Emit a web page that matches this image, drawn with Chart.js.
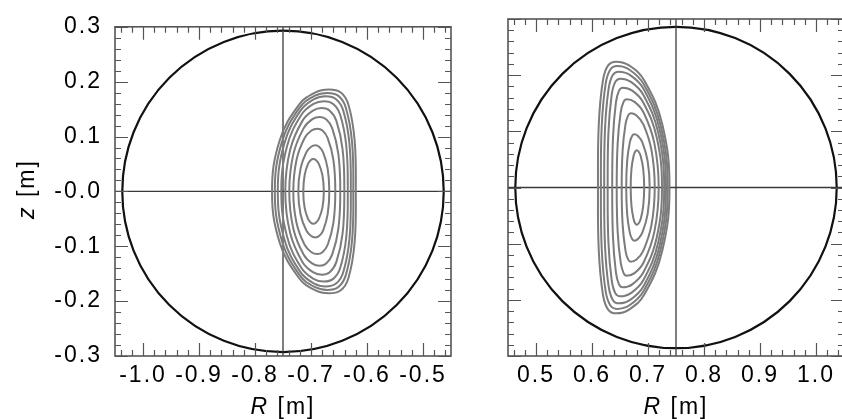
<!DOCTYPE html>
<html><head><meta charset="utf-8">
<script src="https://cdn.jsdelivr.net/npm/chart.js@4.4.0/dist/chart.umd.min.js"></script>
<style>
html,body{margin:0;padding:0;background:#fff;overflow:hidden;width:842px;height:419px;position:relative;}
#c1{position:absolute;left:0;top:0;}
#c2{position:absolute;left:460px;top:0;}
</style></head><body>
<canvas id="c1" width="460" height="419"></canvas>
<canvas id="c2" width="400" height="419"></canvas>
<script>
// ---- axis ranges and ticks ----
const leftRRange = [-1.05, -0.45];
const rightRRange = [0.45, 1.05];
const zRange = [-0.3, 0.3];
const leftRTicks = [-1.0, -0.9, -0.8, -0.7, -0.6, -0.5];
const leftRTickLabels = ['-1.0', '-0.9', '-0.8', '-0.7', '-0.6', '-0.5'];
const rightRTicks = [0.5, 0.6, 0.7, 0.8, 0.9, 1.0];
const rightRTickLabels = ['0.5', '0.6', '0.7', '0.8', '0.9', '1.0'];
const zTicks = [-0.3, -0.2, -0.1, 0.0, 0.1, 0.2, 0.3];
const zTickLabels = ['-0.3', '-0.2', '-0.1', '-0.0', '0.1', '0.2', '0.3'];
const minorStep = 0.02;

// ---- vessel circle and cross-hair ----
const leftAxisR = -0.75;
const rightAxisR = 0.75;
const vesselRadius = 0.287;

// ---- flux contours [R, z], innermost first ----
const leftContours = [
 [[-0.7138,0],[-0.7114,0.0295],[-0.7053,0.0501],[-0.7002,0.0571],[-0.6959,0.0589],[-0.6913,0.0571],[-0.6860,0.0501],[-0.6796,0.0295],[-0.6771,0],[-0.6796,-0.0295],[-0.6860,-0.0501],[-0.6913,-0.0571],[-0.6959,-0.0589],[-0.7002,-0.0571],[-0.7053,-0.0501],[-0.7114,-0.0295]],
 [[-0.7227,0],[-0.7186,0.0420],[-0.7083,0.0713],[-0.6997,0.0814],[-0.6923,0.0839],[-0.6856,0.0814],[-0.6784,0.0713],[-0.6703,0.0420],[-0.6673,0],[-0.6703,-0.0420],[-0.6784,-0.0713],[-0.6856,-0.0814],[-0.6923,-0.0839],[-0.6997,-0.0814],[-0.7083,-0.0713],[-0.7186,-0.0420]],
 [[-0.7316,0],[-0.7259,0.0572],[-0.7114,0.0972],[-0.6992,0.1109],[-0.6888,0.1143],[-0.6795,0.1109],[-0.6702,0.0972],[-0.6600,0.0572],[-0.6566,0],[-0.6600,-0.0572],[-0.6702,-0.0972],[-0.6795,-0.1109],[-0.6888,-0.1143],[-0.6992,-0.1109],[-0.7114,-0.0972],[-0.7259,-0.0572]],
 [[-0.7388,0],[-0.7315,0.0679],[-0.7130,0.1153],[-0.6975,0.1316],[-0.6843,0.1357],[-0.6729,0.1316],[-0.6622,0.1153],[-0.6511,0.0679],[-0.6477,0],[-0.6511,-0.0679],[-0.6622,-0.1153],[-0.6729,-0.1316],[-0.6843,-0.1357],[-0.6975,-0.1316],[-0.7130,-0.1153],[-0.7315,-0.0679]],
 [[-0.7459,0],[-0.7372,0.0759],[-0.7151,0.1290],[-0.6965,0.1472],[-0.6807,0.1518],[-0.6666,0.1472],[-0.6548,0.1290],[-0.6435,0.0759],[-0.6405,0],[-0.6435,-0.0759],[-0.6548,-0.1290],[-0.6666,-0.1472],[-0.6807,-0.1518],[-0.6965,-0.1472],[-0.7151,-0.1290],[-0.7372,-0.0759]],
 [[-0.7530,0],[-0.7428,0.0822],[-0.7171,0.1397],[-0.6955,0.1594],[-0.6771,0.1643],[-0.6604,0.1594],[-0.6479,0.1397],[-0.6369,0.0822],[-0.6343,0],[-0.6369,-0.0822],[-0.6479,-0.1397],[-0.6604,-0.1594],[-0.6771,-0.1643],[-0.6955,-0.1594],[-0.7171,-0.1397],[-0.7428,-0.0822]],
 [[-0.7593,0],[-0.7478,0.0866],[-0.7188,0.1472],[-0.6944,0.1680],[-0.6736,0.1732],[-0.6553,0.1680],[-0.6424,0.1472],[-0.6313,0.0866],[-0.6289,0],[-0.6313,-0.0866],[-0.6424,-0.1472],[-0.6553,-0.1680],[-0.6736,-0.1732],[-0.6944,-0.1680],[-0.7188,-0.1472],[-0.7478,-0.0866]],
 [[-0.7646,0],[-0.7520,0.0898],[-0.7203,0.1526],[-0.6937,0.1741],[-0.6709,0.1795],[-0.6511,0.1741],[-0.6378,0.1526],[-0.6267,0.0898],[-0.6245,0],[-0.6267,-0.0898],[-0.6378,-0.1526],[-0.6511,-0.1741],[-0.6709,-0.1795],[-0.6937,-0.1741],[-0.7203,-0.1526],[-0.7520,-0.0898]],
 [[-0.7696,0],[-0.7560,0.0929],[-0.7216,0.1578],[-0.6928,0.1801],[-0.6682,0.1857],[-0.6468,0.1801],[-0.6331,0.1578],[-0.6221,0.0929],[-0.6200,0],[-0.6221,-0.0929],[-0.6331,-0.1578],[-0.6468,-0.1801],[-0.6682,-0.1857],[-0.6928,-0.1801],[-0.7216,-0.1578],[-0.7560,-0.0929]]
];
const rightContours = [
 [[0.6691,0],[0.6705,0.0331],[0.6742,0.0562],[0.6772,0.0641],[0.6798,0.0661],[0.6831,0.0641],[0.6869,0.0562],[0.6914,0.0331],[0.6932,0],[0.6914,-0.0331],[0.6869,-0.0562],[0.6831,-0.0641],[0.6798,-0.0661],[0.6772,-0.0641],[0.6742,-0.0562],[0.6705,-0.0331]],
 [[0.6611,0],[0.6628,0.0473],[0.6675,0.0804],[0.6716,0.0918],[0.6754,0.0946],[0.6821,0.0918],[0.6899,0.0804],[0.6993,0.0473],[0.7030,0],[0.6993,-0.0473],[0.6899,-0.0804],[0.6821,-0.0918],[0.6754,-0.0946],[0.6716,-0.0918],[0.6675,-0.0804],[0.6628,-0.0473]],
 [[0.6530,0],[0.6547,0.0661],[0.6598,0.1123],[0.6644,0.1281],[0.6691,0.1321],[0.6795,0.1281],[0.6917,0.1123],[0.7063,0.0661],[0.7120,0],[0.7063,-0.0661],[0.6917,-0.1123],[0.6795,-0.1281],[0.6691,-0.1321],[0.6644,-0.1281],[0.6598,-0.1123],[0.6547,-0.0661]],
 [[0.6441,0],[0.6458,0.0786],[0.6512,0.1335],[0.6564,0.1524],[0.6620,0.1571],[0.6759,0.1524],[0.6921,0.1335],[0.7114,0.0786],[0.7191,0],[0.7114,-0.0786],[0.6921,-0.1335],[0.6759,-0.1524],[0.6620,-0.1571],[0.6564,-0.1524],[0.6512,-0.1335],[0.6458,-0.0786]],
 [[0.6361,0],[0.6375,0.0889],[0.6427,0.1510],[0.6482,0.1724],[0.6548,0.1777],[0.6719,0.1724],[0.6918,0.1510],[0.7156,0.0889],[0.7250,0],[0.7156,-0.0889],[0.6918,-0.1510],[0.6719,-0.1724],[0.6548,-0.1777],[0.6482,-0.1724],[0.6427,-0.1510],[0.6375,-0.0889]],
 [[0.6280,0],[0.6293,0.0969],[0.6351,0.1647],[0.6416,0.1880],[0.6504,0.1938],[0.6695,0.1880],[0.6918,0.1647],[0.7184,0.0969],[0.7289,0],[0.7184,-0.0969],[0.6918,-0.1647],[0.6695,-0.1880],[0.6504,-0.1938],[0.6416,-0.1880],[0.6351,-0.1647],[0.6293,-0.0969]],
 [[0.6218,0],[0.6232,0.1032],[0.6296,0.1754],[0.6371,0.2001],[0.6477,0.2063],[0.6682,0.2001],[0.6922,0.1754],[0.7208,0.1032],[0.7321,0],[0.7208,-0.1032],[0.6922,-0.1754],[0.6682,-0.2001],[0.6477,-0.2063],[0.6371,-0.2001],[0.6296,-0.1754],[0.6232,-0.1032]],
 [[0.6159,0],[0.6173,0.1081],[0.6242,0.1837],[0.6326,0.2096],[0.6450,0.2161],[0.6669,0.2096],[0.6925,0.1837],[0.7231,0.1081],[0.7352,0],[0.7231,-0.1081],[0.6925,-0.1837],[0.6669,-0.2096],[0.6450,-0.2161],[0.6326,-0.2096],[0.6242,-0.1837],[0.6173,-0.1081]],
 [[0.6107,0],[0.6121,0.1121],[0.6195,0.1905],[0.6288,0.2174],[0.6432,0.2241],[0.6663,0.2174],[0.6934,0.1905],[0.7256,0.1121],[0.7384,0],[0.7256,-0.1121],[0.6934,-0.1905],[0.6663,-0.2174],[0.6432,-0.2241],[0.6288,-0.2174],[0.6195,-0.1905],[0.6121,-0.1121]]
];

const FONT = "'Liberation Sans', Arial, Helvetica, sans-serif";
const FSIZE = 23;
const tickFont = {family: FONT, size: FSIZE};
const SPACING = '2px';

function loopData(pts){
  const n = pts.length;
  const seq = [pts[n-1], ...pts, pts[0], pts[1]];
  return seq.map(p => ({x: p[0], y: p[1]}));
}
function contourDatasets(list){
  return list.map(pts => {
    const data = loopData(pts);
    const last = data.length - 2;
    return {
      data, showLine: true, borderColor: '#7c7c7c', borderWidth: 2, pointRadius: 0,
      tension: 0.4, fill: false,
      segment: {borderColor: c => (c.p0DataIndex === 0 || c.p0DataIndex === last) ? 'rgba(0,0,0,0)' : undefined}
    };
  });
}
function lineDataset(pts){
  return {data: pts.map(p => ({x: p[0], y: p[1]})), showLine: true, borderColor: '#3a3a3a',
    borderWidth: 1.3, pointRadius: 0, tension: 0, fill: false};
}

function isMajor(v){ return Math.abs(v * 10 - Math.round(v * 10)) < 1e-6; }

function decorPlugin(p){
  return {
    id: 'decor',
    beforeDraw(chart){ chart.ctx.letterSpacing = SPACING; },
    beforeDatasetsDraw(chart){
      const {ctx} = chart; const x = chart.scales.x, y = chart.scales.y;
      const cx = x.getPixelForValue(p.center), cy = y.getPixelForValue(0);
      const r = Math.abs(x.getPixelForValue(p.center + vesselRadius) - cx);
      ctx.save();
      ctx.beginPath(); ctx.arc(cx, cy, r, 0, Math.PI * 2);
      ctx.lineWidth = 2.2; ctx.strokeStyle = '#111'; ctx.stroke();
      ctx.restore();
    },
    afterDatasetsDraw(chart){
      const {ctx, chartArea: a} = chart; const x = chart.scales.x, y = chart.scales.y;
      ctx.save();
      ctx.strokeStyle = '#555'; ctx.lineWidth = 1.2;
      ctx.beginPath();
      const x0 = Math.ceil(x.min / minorStep - 1e-6) * minorStep;
      for (let v = x0; v <= x.max + 1e-9; v += minorStep){
        const px = Math.round(x.getPixelForValue(v)) + 0.5;
        const len = isMajor(v) ? 13 : 6;
        ctx.moveTo(px, a.bottom); ctx.lineTo(px, a.bottom - len);
        ctx.moveTo(px, a.top); ctx.lineTo(px, a.top + len);
      }
      const y0 = Math.ceil(y.min / minorStep - 1e-6) * minorStep;
      for (let v = y0; v <= y.max + 1e-9; v += minorStep){
        const py = Math.round(y.getPixelForValue(v)) + 0.5;
        const len = isMajor(v) ? 13 : 6;
        ctx.moveTo(a.left, py); ctx.lineTo(a.left + len, py);
        ctx.moveTo(a.right, py); ctx.lineTo(a.right - len, py);
      }
      ctx.stroke();
      ctx.lineWidth = 1.6; ctx.strokeStyle = '#555';
      ctx.strokeRect(a.left, a.top, a.right - a.left, a.bottom - a.top);
      ctx.restore();
    },
    afterDraw(chart){
      const {ctx, chartArea: a} = chart;
      ctx.save();
      ctx.letterSpacing = SPACING;
      ctx.fillStyle = '#000';
      ctx.textBaseline = 'alphabetic'; ctx.textAlign = 'left';
      const it = 'italic ' + FSIZE + 'px ' + FONT, nf = FSIZE + 'px ' + FONT;
      function title(sym){
        ctx.font = it; const w1 = ctx.measureText(sym).width;
        ctx.font = nf; const w2 = ctx.measureText(' [m]').width;
        const s = -(w1 + w2) / 2;
        ctx.font = it; ctx.fillText(sym, s, 0);
        ctx.font = nf; ctx.fillText(' [m]', s + w1, 0);
      }
      ctx.save(); ctx.translate((a.left + a.right) / 2, 414); title('R'); ctx.restore();
      if (p.yTitle){
        ctx.save(); ctx.translate(34, 189); ctx.rotate(-Math.PI / 2); title('z'); ctx.restore();
      }
      ctx.restore();
    }
  };
}

function makeChart(id, cfg){
  return new Chart(document.getElementById(id), {
    type: 'scatter',
    data: {datasets: [
      ...contourDatasets(cfg.contours),
      lineDataset([[cfg.range[0], 0], [cfg.range[1], 0]]),
      lineDataset([[cfg.axisR, zRange[0]], [cfg.axisR, zRange[1]]])
    ]},
    options: {
      responsive: false, animation: false, devicePixelRatio: 1, events: [],
      layout: {padding: {top: 19, right: cfg.padRight, bottom: 0, left: 0}},
      plugins: {legend: {display: false}, tooltip: {enabled: false}},
      scales: {
        x: {
          type: 'linear', position: 'bottom', min: cfg.range[0], max: cfg.range[1],
          grid: {display: false, drawTicks: false}, border: {display: false},
          ticks: {font: tickFont, color: '#000', padding: 6, autoSkip: false, maxRotation: 0, minRotation: 0,
            callback: (v, i) => cfg.xLabels[i]},
          afterBuildTicks: s => { s.ticks = cfg.xTicks.map(v => ({value: v})); },
          afterFit: s => { s.height = 63; }
        },
        y: {
          type: 'linear', position: 'left', min: zRange[0], max: zRange[1],
          grid: {display: false, drawTicks: false}, border: {display: false},
          ticks: {display: cfg.yLabels, font: tickFont, color: '#000', padding: 13, autoSkip: false,
            callback: (v, i) => zTickLabels[i]},
          afterBuildTicks: s => { s.ticks = zTicks.map(v => ({value: v})); },
          afterFit: s => { s.width = cfg.yWidth; }
        }
      }
    },
    plugins: [decorPlugin({center: cfg.axisR, yTitle: cfg.yLabels})]
  });
}

makeChart('c1', {contours: leftContours, range: leftRRange, axisR: leftAxisR, xTicks: leftRTicks,
  xLabels: leftRTickLabels, yLabels: true, yWidth: 115, padRight: 9});
makeChart('c2', {contours: rightContours, range: rightRRange, axisR: rightAxisR, xTicks: rightRTicks,
  xLabels: rightRTickLabels, yLabels: false, yWidth: 48, padRight: 16});
</script>
</body></html>
